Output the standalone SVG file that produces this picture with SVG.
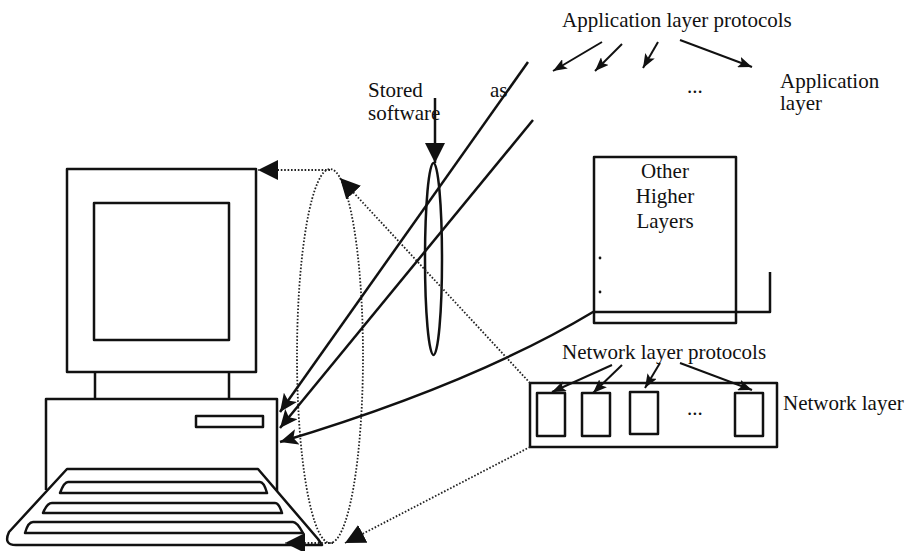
<svg xmlns="http://www.w3.org/2000/svg" width="911" height="551" viewBox="0 0 911 551">
  <style>
    .ln { fill: none; stroke: #111; stroke-width: 2.5; stroke-linejoin: round; }
    .thin { fill: none; stroke: #111; stroke-width: 2; }
    .dot { fill: none; stroke: #222; stroke-width: 1.8; stroke-dasharray: 1.6 1.8; }
    .lbl { font-family: "Liberation Serif", "Times New Roman", serif; font-size: 21px; fill: #111; }
    .mk { fill: #111; stroke: none; }
  </style>
  <defs>
    <marker id="big" viewBox="0 0 20 20" refX="20" refY="10" markerWidth="20" markerHeight="20" markerUnits="userSpaceOnUse" orient="auto">
      <path class="mk" d="M0,0 L20,10 L0,20 Z"/>
    </marker>
    <marker id="mid" viewBox="0 0 18 16" refX="18" refY="8" markerWidth="18" markerHeight="16" markerUnits="userSpaceOnUse" orient="auto">
      <path class="mk" d="M0,0 L18,8 L0,16 L4,8 Z"/>
    </marker>
    <marker id="small" viewBox="0 0 14 11" refX="14" refY="5.5" markerWidth="14" markerHeight="11" markerUnits="userSpaceOnUse" orient="auto">
      <path class="mk" d="M0,0 L14,5.5 L0,11 L3,5.5 Z"/>
    </marker>
  </defs>

  <!-- personal computer -->
  <g id="computer">
    <rect class="ln" x="67" y="169" width="189" height="203"/>
    <rect class="ln" x="94" y="203" width="135" height="137"/>
    <path class="ln" d="M95,372 V399 M229,372 V399"/>
    <path class="ln" d="M46,490 V399 H277 V491"/>
    <rect class="ln" x="196" y="416" width="67" height="11"/>
    <path class="ln" d="M67,469 H258 L318,539 L322,545 H16 Q3,545 9,532 Z" fill="#fff"/>
    <path class="ln" d="M68,482 H260 Q264,482 267,493 H60 Q64,482 68,482 Z"/>
    <path class="ln" d="M52,503 H275 Q279,503 282,513 H43 Q47,503 52,503 Z"/>
    <path class="ln" d="M33,522 H293 Q297,522 303,533 H25 Q28,522 33,522 Z"/>
  </g>

  <!-- software stored on the machine -->
  <g id="stored-software">
    <ellipse class="ln" cx="433.5" cy="259" rx="8.5" ry="96"/>
    <text class="lbl" x="368" y="97">Stored</text>
    <text class="lbl" x="368" y="120">software</text>
    <text class="lbl" x="490" y="97">as</text>
  </g>

  <!-- scope of the installed layers -->
  <g id="scope">
    <ellipse class="dot" cx="330" cy="356" rx="33" ry="187"/>
  </g>

  <!-- application layer -->
  <g id="application-layer">
    <text class="lbl" x="562" y="27">Application layer protocols</text>
    <text class="lbl" x="780" y="88">Application</text>
    <text class="lbl" x="780" y="110">layer</text>
    <text class="lbl" x="687" y="93">...</text>
  </g>

  <!-- other higher layers -->
  <g id="higher-layers">
    <rect class="ln" x="594" y="157" width="142" height="166"/>
    <text class="lbl" x="665" y="178" text-anchor="middle">Other</text>
    <text class="lbl" x="665" y="203" text-anchor="middle">Higher</text>
    <text class="lbl" x="665" y="228" text-anchor="middle">Layers</text>
    <circle cx="600" cy="258" r="1.4" fill="#111"/>
    <circle cx="600" cy="292" r="1.4" fill="#111"/>
  </g>

  <!-- network layer -->
  <g id="network-layer">
    <rect class="ln" x="530" y="383" width="247" height="64"/>
    <rect class="ln" x="537" y="393" width="28" height="43"/>
    <rect class="ln" x="582" y="393" width="28" height="43"/>
    <rect class="ln" x="630" y="392" width="28" height="42"/>
    <rect class="ln" x="735" y="393" width="28" height="43"/>
    <text class="lbl" x="687" y="415">...</text>
    <text class="lbl" x="562" y="359">Network layer protocols</text>
    <text class="lbl" x="783" y="410">Network layer</text>
  </g>

  <!-- connectors -->
  <g id="connectors">
    <line class="ln" x1="435" y1="98" x2="435" y2="163" marker-end="url(#big)"/>
    <line class="thin" x1="602" y1="42" x2="553" y2="71" marker-end="url(#small)"/>
    <line class="thin" x1="622" y1="44" x2="595" y2="71" marker-end="url(#small)"/>
    <line class="thin" x1="658" y1="42" x2="643" y2="68" marker-end="url(#small)"/>
    <line class="thin" x1="680" y1="40" x2="752" y2="67" marker-end="url(#small)"/>
    <line class="thin" x1="612" y1="365" x2="552" y2="392" marker-end="url(#small)"/>
    <line class="thin" x1="622" y1="365" x2="593" y2="393" marker-end="url(#small)"/>
    <line class="thin" x1="660" y1="363" x2="645" y2="388" marker-end="url(#small)"/>
    <line class="thin" x1="680" y1="363" x2="752" y2="390" marker-end="url(#small)"/>
    <line class="ln" x1="528" y1="62" x2="280" y2="412" marker-end="url(#mid)"/>
    <line class="ln" x1="533" y1="120" x2="280" y2="428" marker-end="url(#mid)"/>
    <path class="ln" d="M770,272 V312 H593 Q473,384 280,442" marker-end="url(#mid)"/>
    <line class="dot" x1="330" y1="170" x2="258" y2="170" marker-end="url(#big)"/>
    <line class="dot" x1="530" y1="383" x2="340" y2="178" marker-end="url(#big)"/>
    <line class="dot" x1="333" y1="543" x2="285" y2="543" marker-end="url(#big)"/>
    <line class="dot" x1="530" y1="447" x2="345" y2="543" marker-end="url(#big)"/>
  </g>
</svg>
